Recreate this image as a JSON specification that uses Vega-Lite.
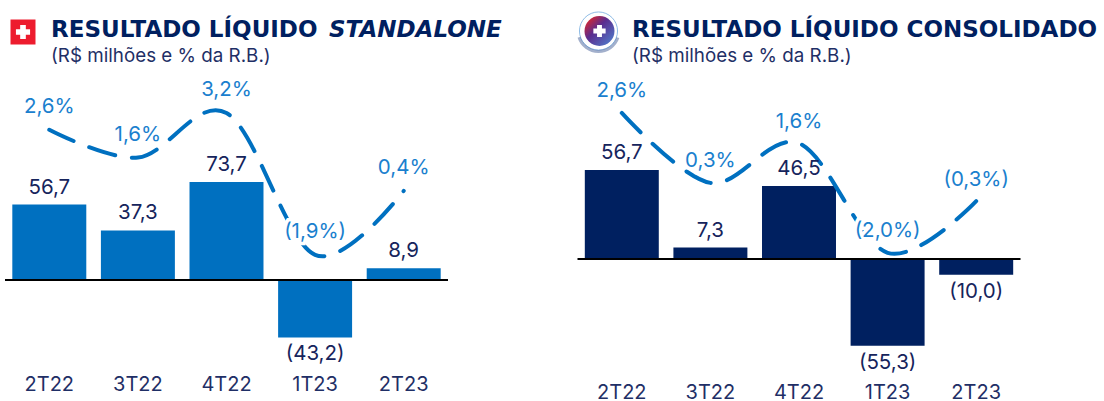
{
"$schema":"https://vega.github.io/schema/vega-lite/v6.json",
"padding":{"left":4,"top":0,"right":0,"bottom":0},
"background":"white",
"bounds":"flush",
"spacing":129.5,
"config":{"view":{"stroke":null},"text":{"font":"Inter"},"axis":{"labelFont":"Inter"}},
"datasets":{
"standalone":[
{"trimestre":"2T22","valor":56.7,"rotulo":"56,7","margem":2.6,"rotulo_margem":"2,6%"},
{"trimestre":"3T22","valor":37.3,"rotulo":"37,3","margem":1.6,"rotulo_margem":"1,6%"},
{"trimestre":"4T22","valor":73.7,"rotulo":"73,7","margem":3.2,"rotulo_margem":"3,2%"},
{"trimestre":"1T23","valor":-43.2,"rotulo":"(43,2)","margem":-1.9,"rotulo_margem":"(1,9%)"},
{"trimestre":"2T23","valor":8.9,"rotulo":"8,9","margem":0.4,"rotulo_margem":"0,4%"}],
"consolidado":[
{"trimestre":"2T22","valor":56.7,"rotulo":"56,7","margem":2.6,"rotulo_margem":"2,6%"},
{"trimestre":"3T22","valor":7.3,"rotulo":"7,3","margem":0.3,"rotulo_margem":"0,3%"},
{"trimestre":"4T22","valor":46.5,"rotulo":"46,5","margem":1.6,"rotulo_margem":"1,6%"},
{"trimestre":"1T23","valor":-55.3,"rotulo":"(55,3)","margem":-2.0,"rotulo_margem":"(2,0%)"},
{"trimestre":"2T23","valor":-10.0,"rotulo":"(10,0)","margem":-0.3,"rotulo_margem":"(0,3%)"}]
},
"hconcat":[
{
"width":443,"height":370,
"data":{"name":"standalone"},
"resolve":{"scale":{"y":"independent"}},
"layer":[
{"mark":{"type":"bar","color":"#0070C0"},
 "encoding":{
  "x":{"field":"trimestre","type":"nominal","sort":null,"title":null,"scale":{"paddingInner":0.165,"paddingOuter":0.0825},"axis":{"domain":false,"ticks":false,"labelAngle":0,"labelFontSize":20,"labelColor":"#1F2F66","labelPadding":4}},
  "y":{"field":"valor","type":"quantitative","axis":null,"scale":{"domain":[-67.67,210.5],"nice":false,"zero":false}}}},
{"data":{"values":[{"zero":0}]},"mark":{"type":"rule","color":"#000000","strokeWidth":2},
 "encoding":{"y":{"field":"zero","type":"quantitative","axis":null,"scale":{"domain":[-67.67,210.5],"nice":false,"zero":false}}}},
{"mark":{"type":"line","color":"#0070C0","strokeWidth":4,"strokeCap":"round","strokeDash":[27,16.67],"interpolate":"cardinal","tension":0},
 "encoding":{
  "x":{"field":"trimestre","type":"nominal","sort":null},
  "y":{"field":"margem","type":"quantitative","axis":null,"scale":{"domain":[-6.043,7.266],"nice":false,"zero":false}}}},
{"transform":[{"filter":"datum.valor>=0"}],"mark":{"type":"text","fontSize":20.5,"color":"#16245C","dy":-17},
 "encoding":{
  "x":{"field":"trimestre","type":"nominal","sort":null},
  "y":{"field":"valor","type":"quantitative","axis":null,"scale":{"domain":[-67.67,210.5],"nice":false,"zero":false}},
  "text":{"field":"rotulo"}}},
{"transform":[{"filter":"datum.valor<0"}],"mark":{"type":"text","fontSize":20.5,"color":"#16245C","dy":17},
 "encoding":{
  "x":{"field":"trimestre","type":"nominal","sort":null},
  "y":{"field":"valor","type":"quantitative","axis":null,"scale":{"domain":[-67.67,210.5],"nice":false,"zero":false}},
  "text":{"field":"rotulo"}}},
{"mark":{"type":"text","fontSize":20.5,"color":"#FFFFFF","stroke":"#FFFFFF","strokeWidth":7,"dy":-23},
 "encoding":{
  "x":{"field":"trimestre","type":"nominal","sort":null},
  "y":{"field":"margem","type":"quantitative","axis":null,"scale":{"domain":[-6.043,7.266],"nice":false,"zero":false}},
  "text":{"field":"rotulo_margem"}}},
{"mark":{"type":"text","fontSize":20.5,"color":"#1A80CE","dy":-23},
 "encoding":{
  "x":{"field":"trimestre","type":"nominal","sort":null},
  "y":{"field":"margem","type":"quantitative","axis":null,"scale":{"domain":[-6.043,7.266],"nice":false,"zero":false}},
  "text":{"field":"rotulo_margem"}}},
{"data":{"values":[{"t":"RESULTADO LÍQUIDO"}]},"mark":{"type":"text","font":"DejaVu Sans","align":"left","baseline":"middle","fontSize":23,"fontWeight":"bold","color":"#002060"},
 "encoding":{"x":{"value":46},"y":{"value":30},"text":{"field":"t"}}},
{"data":{"values":[{"t":"STANDALONE"}]},"mark":{"type":"text","font":"DejaVu Sans","align":"left","baseline":"middle","fontSize":23,"fontWeight":"bold","fontStyle":"italic","color":"#002060"},
 "encoding":{"x":{"value":324},"y":{"value":30},"text":{"field":"t"}}},
{"data":{"values":[{"t":"(R$ milhões e % da R.B.)"}]},"mark":{"type":"text","align":"left","baseline":"middle","fontSize":18.8,"color":"#1F2F66"},
 "encoding":{"x":{"value":46},"y":{"value":56},"text":{"field":"t"}}},
{"data":{"values":[{"icone":"quadrado"}]},"mark":{"type":"point","shape":"square","filled":true,"color":"#ED1C2E","opacity":1,"size":625},
 "encoding":{"x":{"value":18},"y":{"value":32}}},
{"data":{"values":[{"icone":"cruz"}]},"mark":{"type":"point","shape":"cross","filled":true,"color":"#FFFFFF","opacity":1,"size":200},
 "encoding":{"x":{"value":18},"y":{"value":32}}}
]
},
{
"width":443,"height":370,
"data":{"name":"consolidado"},
"resolve":{"scale":{"y":"independent"}},
"layer":[
{"mark":{"type":"bar","color":"#002060"},
 "encoding":{
  "x":{"field":"trimestre","type":"nominal","sort":null,"title":null,"scale":{"paddingInner":0.165,"paddingOuter":0.0825},"axis":{"domain":false,"ticks":false,"labelAngle":0,"labelFontSize":20,"labelColor":"#1F2F66","labelPadding":12}},
  "y":{"field":"valor","type":"quantitative","axis":null,"scale":{"domain":[-70.7,164.97],"nice":false,"zero":false}}}},
{"data":{"values":[{"zero":0}]},"mark":{"type":"rule","color":"#000000","strokeWidth":2},
 "encoding":{"y":{"field":"zero","type":"quantitative","axis":null,"scale":{"domain":[-70.7,164.97],"nice":false,"zero":false}}}},
{"mark":{"type":"line","color":"#0070C0","strokeWidth":4,"strokeCap":"round","strokeDash":[27,16.67],"interpolate":"cardinal","tension":0},
 "encoding":{
  "x":{"field":"trimestre","type":"nominal","sort":null},
  "y":{"field":"margem","type":"quantitative","axis":null,"scale":{"domain":[-5.855,6.316],"nice":false,"zero":false}}}},
{"transform":[{"filter":"datum.valor>=0"}],"mark":{"type":"text","fontSize":20.5,"color":"#16245C","dy":-17},
 "encoding":{
  "x":{"field":"trimestre","type":"nominal","sort":null},
  "y":{"field":"valor","type":"quantitative","axis":null,"scale":{"domain":[-70.7,164.97],"nice":false,"zero":false}},
  "text":{"field":"rotulo"}}},
{"transform":[{"filter":"datum.valor<0"}],"mark":{"type":"text","fontSize":20.5,"color":"#16245C","dy":17},
 "encoding":{
  "x":{"field":"trimestre","type":"nominal","sort":null},
  "y":{"field":"valor","type":"quantitative","axis":null,"scale":{"domain":[-70.7,164.97],"nice":false,"zero":false}},
  "text":{"field":"rotulo"}}},
{"mark":{"type":"text","fontSize":20.5,"color":"#FFFFFF","stroke":"#FFFFFF","strokeWidth":7,"dy":-21.5},
 "encoding":{
  "x":{"field":"trimestre","type":"nominal","sort":null},
  "y":{"field":"margem","type":"quantitative","axis":null,"scale":{"domain":[-5.855,6.316],"nice":false,"zero":false}},
  "text":{"field":"rotulo_margem"}}},
{"mark":{"type":"text","fontSize":20.5,"color":"#1A80CE","dy":-21.5},
 "encoding":{
  "x":{"field":"trimestre","type":"nominal","sort":null},
  "y":{"field":"margem","type":"quantitative","axis":null,"scale":{"domain":[-5.855,6.316],"nice":false,"zero":false}},
  "text":{"field":"rotulo_margem"}}},
{"data":{"values":[{"t":"RESULTADO LÍQUIDO CONSOLIDADO"}]},"mark":{"type":"text","font":"DejaVu Sans","align":"left","baseline":"middle","fontSize":23,"fontWeight":"bold","color":"#002060"},
 "encoding":{"x":{"value":54.5},"y":{"value":30},"text":{"field":"t"}}},
{"data":{"values":[{"t":"(R$ milhões e % da R.B.)"}]},"mark":{"type":"text","align":"left","baseline":"middle","fontSize":18.8,"color":"#1F2F66"},
 "encoding":{"x":{"value":54.5},"y":{"value":56},"text":{"field":"t"}}},
{"data":{"values":[{"icone":"anel"}]},"mark":{"type":"point","shape":"circle","filled":false,"color":"#8FBCE6","opacity":1,"size":1450,"strokeWidth":1},
 "encoding":{"x":{"value":21},"y":{"value":31}}},
{"data":{"values":[{"icone":"texto"}]},"mark":{"type":"arc","color":"#34508F","opacity":0.45,"radius":22,"radius2":19,"theta":1.9,"theta2":4.4},
 "encoding":{"x":{"value":21},"y":{"value":31}}},
{"data":{"values":[{"icone":"disco"}]},"mark":{"type":"point","shape":"circle","filled":true,"opacity":1,"size":900,"strokeWidth":0,"fill":{"gradient":"linear","x1":0.1,"y1":0.1,"x2":0.9,"y2":0.9,"stops":[{"offset":0,"color":"#D8262F"},{"offset":0.4,"color":"#5B2C8E"},{"offset":1,"color":"#4F77C8"}]}},
 "encoding":{"x":{"value":22},"y":{"value":31}}},
{"data":{"values":[{"icone":"cruz"}]},"mark":{"type":"point","shape":"cross","filled":true,"color":"#FFFFFF","opacity":1,"size":150},
 "encoding":{"x":{"value":22},"y":{"value":31}}}
]
}
]
}
